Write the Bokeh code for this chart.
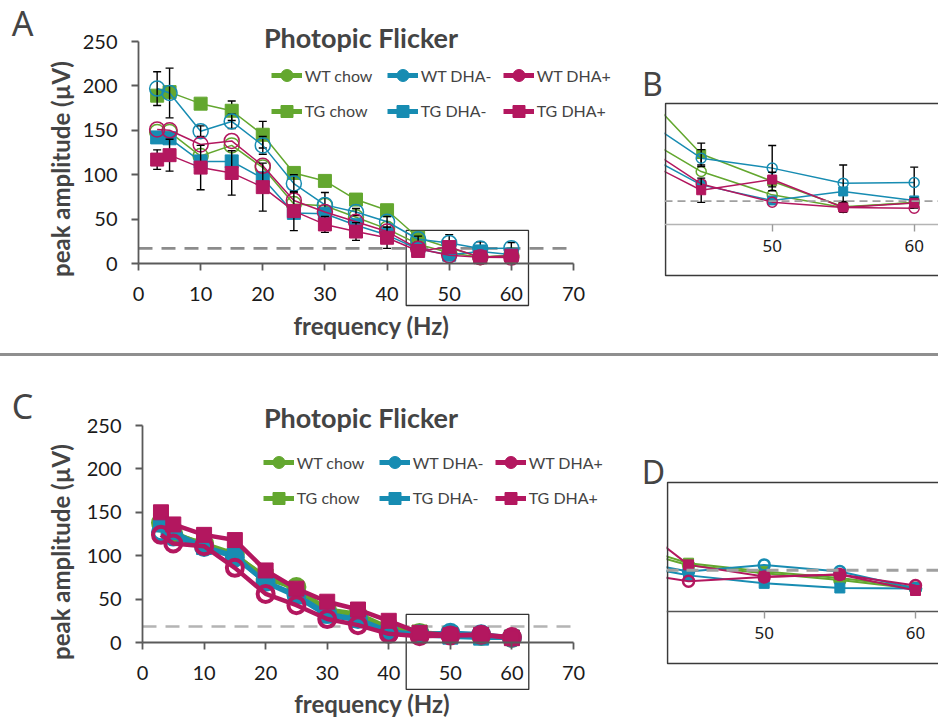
import math
from bokeh.plotting import figure
from bokeh.models import Range1d, FixedTicker, Label, Legend, LegendItem, Span, Div
from bokeh.layouts import row, column
from bokeh.embed import file_html
from bokeh.resources import INLINE

# ---------------- data ----------------
freq = [3, 5, 10, 15, 20, 25, 30, 35, 40, 45, 50, 55, 60]
x_ticks = [0, 10, 20, 30, 40, 50, 60, 70]
y_ticks = [0, 50, 100, 150, 200, 250]
inset_ticks = [50, 60]
series_names = ["WT chow", "TG chow", "WT DHA-", "TG DHA-", "WT DHA+", "TG DHA+"]
legend_row1 = ["WT chow", "WT DHA-", "WT DHA+"]
legend_row2 = ["TG chow", "TG DHA-", "TG DHA+"]

# Panel A (and zoom B): peak amplitude (µV)
a_wt_chow = [148, 148, 121, 133, 108, 67, 65, 52, 39, 21.8, 12.2, 7.0, 9.2]
a_tg_chow = [189, 193, 180, 172, 145, 102, 93, 72, 60, 29.0, 17.8, 7.3, 9.0]
a_wt_dham = [197, 192, 149, 160, 133, 90, 66, 58, 47, 27.3, 23.2, 17.0, 17.3]
a_tg_dham = [142, 141, 115, 115, 96, 57, 56, 43, 32, 16.3, 9.9, 13.6, 9.9]
a_wt_dhap = [151, 150, 134, 138, 110, 71, 58, 47, 36, 16.7, 9.2, 7.0, 6.7]
a_tg_dhap = [117, 122, 108, 102, 86, 59, 44, 36, 29, 14.1, 18.5, 7.0, 8.8]
a_err_tg_chow = [None, None, None, 11, 15, None, None, None, None, 4.5, None, None, None]
a_err_wt_dham = [19, 28, 6, 8, 10, 10, 14, 4, 6, 3.5, 9.3, 7.5, 6.3]
a_err_tg_dhap = [11, 18, 25, 25, 27, 22, 9, 10, 12, 5, 3, 2, 2]
a_noise = 17.0
b_noise = 9.6

# Panel C (and zoom D)
c_wt_chow = [138, 125, 114, 102, 73, 64, 37, 32, 16, 11.0, 9.1, 7.5, 5.4]
c_tg_chow = [140, 127, 112, 100, 76, 61, 38, 33, 17, 11.5, 9.5, 8.0, 5.8]
c_wt_dham = [127, 122, 110, 98, 70, 55, 33, 27, 13, 9.5, 11.1, 9.5, 5.5]
c_tg_dham = [136, 127, 110, 100, 69, 53, 31, 26, 12, 8.6, 6.7, 5.6, 5.5]
c_wt_dhap = [124, 114, 111, 86, 56, 43, 27, 20, 10, 7.2, 8.2, 8.8, 6.2]
c_tg_dhap = [150, 136, 124, 118, 83, 62, 47, 38, 25, 11.1, 8.3, 8.8, 5.0]
c_noise = 18.4
d_noise = 9.8

a_vals = [a_wt_chow, a_tg_chow, a_wt_dham, a_tg_dham, a_wt_dhap, a_tg_dhap]
a_errs = {"TG chow": a_err_tg_chow, "WT DHA-": a_err_wt_dham, "TG DHA+": a_err_tg_dhap}
c_vals = [c_wt_chow, c_tg_chow, c_wt_dham, c_tg_dham, c_wt_dhap, c_tg_dhap]

# ---------------- styles ----------------
GREEN, BLUE, PINK = "#63a72f", "#178cb2", "#b3175f"
style = {
    "WT chow": (GREEN, "circle", False), "TG chow": (GREEN, "square", True),
    "WT DHA-": (BLUE, "circle", False), "TG DHA-": (BLUE, "square", True),
    "WT DHA+": (PINK, "circle", False), "TG DHA+": (PINK, "square", True),
}
FONT = "Lato"
IFONT = "Noto Sans"
NAN = float("nan")


def add_err(p, v, e, cap):
    xs = [f for f, ee in zip(freq, e) if ee is not None]
    lo = [vv - ee for vv, ee in zip(v, e) if ee is not None]
    hi = [vv + ee for vv, ee in zip(v, e) if ee is not None]
    p.segment(x0=xs, y0=lo, x1=xs, y1=hi, line_color="black", line_width=1.4)
    p.scatter(xs + xs, lo + hi, marker="dash", size=cap, line_color="black", line_width=1.4)


def draw_series(p, vals, errs, lw, csize, ssize, mlw, cap):
    for name, v in zip(series_names, vals):
        color, marker, filled = style[name]
        p.line(freq, v, line_color=color, line_width=lw)
        if name in errs:
            add_err(p, v, errs[name], cap)
        p.scatter(freq, v, marker=marker, size=csize if marker == "circle" else ssize,
                  line_color=color, line_width=mlw if marker == "circle" else 1,
                  fill_color=color if filled else None)


def bare_figure(W, H, xr, yr):
    p = figure(width=W, height=H, x_range=xr, y_range=yr,
               min_border_left=0, min_border_right=0, min_border_top=0, min_border_bottom=0,
               toolbar_location=None, output_backend="svg", outline_line_color=None,
               border_fill_color="white", background_fill_color="white")
    p.title.visible = False
    p.xgrid.visible = False
    p.ygrid.visible = False
    return p


def main_panel(vals, errs, noise, box, g, lw, csize, ssize, mlw, letter, inset_letter):
    W, H, x0, xpx, yz, ypx = g["W"], g["H"], g["x0"], g["xpx"], g["yzero"], g["ypx"]
    dx = lambda cx: (cx - x0) / xpx
    dy = lambda cy: (yz - cy) / ypx
    p = bare_figure(W, H, Range1d(dx(0), dx(W)), Range1d(dy(H), dy(0)))
    xa, ya = p.xaxis[0], p.yaxis[0]
    xa.fixed_location = 0
    ya.fixed_location = 0
    xa.bounds = (x_ticks[0], x_ticks[-1])
    ya.bounds = (y_ticks[0], y_ticks[-1])
    xa.ticker = FixedTicker(ticks=x_ticks)
    ya.ticker = FixedTicker(ticks=y_ticks)
    for ax in (xa, ya):
        ax.axis_line_color = "#5a5a5a"
        ax.axis_line_width = 1.8
        ax.major_tick_line_color = "#5a5a5a"
        ax.major_tick_line_width = 1.8
        ax.major_tick_out = 7
        ax.major_tick_in = 0
        ax.minor_tick_line_color = None
        ax.major_label_text_font = FONT
        ax.major_label_text_font_size = "20px"
        ax.major_label_text_color = "#1a1a1a"
    xa.major_label_standoff = 16
    ya.major_label_standoff = 14

    # noise threshold and zoom box
    p.segment(x0=[x_ticks[0]], x1=[x_ticks[-1]], y0=[noise], y1=[noise],
              line_color=g["noise_color"], line_width=2.6, line_dash="14 9")
    p.quad(left=[box[0]], right=[box[1]], bottom=[box[2]], top=[box[3]],
           fill_color=None, line_color="#333333", line_width=1.3)

    draw_series(p, vals, errs, lw, csize, ssize, mlw, 8)

    # legend (two rows of three)
    for names, yc in ((legend_row1, g["leg_y"][0]), (legend_row2, g["leg_y"][1])):
        items = []
        for name in names:
            color, marker, _ = style[name]
            r1 = p.line([NAN, NAN], [NAN, NAN], line_color=color, line_width=5)
            r2 = p.scatter([NAN], [NAN], marker=marker, size=12, fill_color=color, line_color=color)
            items.append(LegendItem(label=name, renderers=[r1, r2]))
        lg = Legend(items=items, orientation="horizontal",
                    location=(g["leg_x"], H - yc - 15),
                    glyph_width=31, glyph_height=30, label_standoff=3, label_width=82,
                    label_height=30, spacing=0, padding=0, margin=0,
                    border_line_color=None, background_fill_alpha=0,
                    label_text_font=FONT, label_text_font_size="16px")
        p.add_layout(lg)

    def lab(pos, text, **kw):
        p.add_layout(Label(x=dx(pos[0]), y=dy(pos[1]), text=text, text_align="center",
                           text_baseline="middle", **kw))

    lab(g["title"], "Photopic Flicker", text_font=FONT, text_font_style="bold", text_font_size="27px")
    lab(g["letter"], letter, text_font=IFONT, text_font_size="34px")
    lab(g["inset_letter"], inset_letter, text_font=IFONT, text_font_size="32px")
    lab(g["xlabel"], "frequency (Hz)", text_font=FONT, text_font_style="bold", text_font_size="24px")
    lab(g["ylabel"], "peak amplitude (µV)", text_font=FONT, text_font_style="bold",
        text_font_size="24px", angle=math.pi / 2)
    return p


def inset_panel(vals, errs, noise, g, lw, csize, ssize, mlw):
    W, H, bl, bt, bb = g["W"], g["H"], g["bl"], g["bt"], g["bb"]
    x50, xpx, yz, ypx = g["x50"], g["xpx"], g["yzero"], g["ypx"]
    dx = lambda cx: 50 + (cx - x50) / xpx
    dy = lambda cy: (yz - cy) / ypx
    p = bare_figure(W, H, Range1d(dx(0), dx(W)), Range1d(dy(H), dy(0)))
    p.yaxis.visible = False
    xa = p.xaxis[0]
    xa.fixed_location = 0
    xa.ticker = FixedTicker(ticks=inset_ticks)
    xa.axis_line_color = g["axis_color"]
    xa.axis_line_width = 1.6
    xa.major_tick_line_color = "#9a9a9a"
    xa.major_tick_line_width = 1.4
    xa.major_tick_out = 7
    xa.major_tick_in = 0
    xa.minor_tick_line_color = None
    xa.major_label_text_font = IFONT
    xa.major_label_text_font_size = "17px"
    xa.major_label_text_color = "#1a1a1a"
    xa.major_label_standoff = 8

    p.add_layout(Span(location=noise, dimension="width", line_color="#a0a0a0",
                      line_width=g["noise_w"], line_dash=g["noise_dash"]))
    draw_series(p, vals, errs, lw, csize, ssize, mlw, 8)

    # zoom frame (its right side runs off the page)
    p.quad(left=[dx(bl)], right=[dx(W + 10)], bottom=[dy(bb)], top=[dy(bt)],
           fill_color=None, line_color="#3a3a3a", line_width=1.6)
    return p


# geometry in canvas pixels of each figure (top row 353 px high, bottom row 369 px high)
gA = dict(W=664, H=353, x0=138, xpx=6.214, yzero=263, ypx=0.888, title=(360.5, 37),
          letter=(22, 22), inset_letter=(652, 83), xlabel=(371, 325), ylabel=(60, 168.5),
          leg_y=(75, 110.7), leg_x=270.7, noise_color="#8c8c8c")
gC = dict(W=666, H=369, x0=142, xpx=6.157, yzero=286, ypx=0.868, title=(360.5, 61),
          letter=(22, 49), inset_letter=(653, 115), xlabel=(371.7, 347), ylabel=(60, 195.5),
          leg_y=(106.3, 141.7), leg_x=262.7, noise_color="#b4b4b4")
gB = dict(W=274, H=353, bl=1, bt=103, bb=275, x50=107.7, xpx=14.2, yzero=224, ypx=2.43,
          axis_color="#b4b4b4", noise_w=1.6, noise_dash="8 5")
gD = dict(W=272, H=369, bl=1, bt=126, bb=307, x50=97.7, xpx=15.13, yzero=255, ypx=4.2,
          axis_color="#555555", noise_w=3, noise_dash="12 8")

box_A = [43.08, 62.76, -47.3, 37.2]
box_C = [42.83, 62.74, -54.1, 32.3]

pA = main_panel(a_vals, a_errs, a_noise, box_A, gA, 1.5, 15, 13, 1.5, "A", "B")
pB = inset_panel(a_vals, a_errs, b_noise, gB, 1.5, 10, 9, 1.5)
pC = main_panel(c_vals, {}, c_noise, box_C, gC, 4.5, 16, 15, 4, "C", "D")
pD = inset_panel(c_vals, {}, d_noise, gD, 2, 11, 10, 2.5)

sep = Div(width=938, height=3, styles={"background-color": "#8f8f8f"}, margin=(0, 0, 0, 0))
layout = column(row(pA, pB), sep, row(pC, pD))

open("out.html", "w").write(file_html(layout, INLINE))
